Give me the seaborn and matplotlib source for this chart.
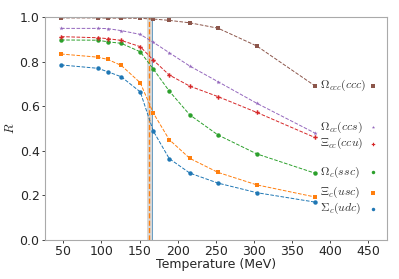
import pandas as pd
import matplotlib
matplotlib.use('Agg')
import matplotlib.pyplot as plt
import seaborn as sns

# temperaturas (MeV) dos pontos calculados
temperatura = [47, 95, 108, 126, 151, 168, 189, 216, 253, 304, 380]

# razão R para cada bárion
r_udc = [0.785, 0.770, 0.755, 0.732, 0.664, 0.489, 0.365, 0.300, 0.255, 0.212, 0.170]
r_usc = [0.834, 0.820, 0.810, 0.783, 0.705, 0.570, 0.450, 0.366, 0.303, 0.247, 0.193]
r_ssc = [0.897, 0.896, 0.889, 0.882, 0.844, 0.767, 0.668, 0.561, 0.471, 0.386, 0.300]
r_ccu = [0.912, 0.907, 0.903, 0.895, 0.867, 0.807, 0.740, 0.690, 0.643, 0.572, 0.460]
r_ccs = [0.949, 0.949, 0.948, 0.939, 0.922, 0.887, 0.840, 0.780, 0.710, 0.613, 0.480]
r_ccc = [0.996, 0.996, 0.995, 0.995, 0.994, 0.991, 0.985, 0.974, 0.950, 0.870, 0.692]

nomes = [r'$\Sigma_c(udc)$', r'$\Xi_c(usc)$', r'$\Omega_c(ssc)$',
         r'$\Xi_{cc}(ccu)$', r'$\Omega_{cc}(ccs)$', r'$\Omega_{ccc}(ccc)$']
series = [r_udc, r_usc, r_ssc, r_ccu, r_ccs, r_ccc]
# altura onde fica cada rótulo à direita
y_rotulo = [0.140, 0.212, 0.305, 0.432, 0.506, 0.692]

cores = sns.color_palette('tab10')[:6]
marcadores = ['o', 's', 'o', 'P', '*', 's']

sns.set_style('white')
plt.rcParams['mathtext.fontset'] = 'cm'

fig, ax = plt.subplots(figsize=(3.99, 2.79), dpi=100)
fig.subplots_adjust(left=0.113, right=0.97, top=0.939, bottom=0.14)

# faixa da temperatura crítica
ax.axvspan(160, 168, color='gray', alpha=0.3, lw=0)
ax.axvline(162, color='tab:orange', ls='--', lw=1.0)
ax.axvline(166, color='tab:blue', lw=0.7, alpha=0.6)

for nome, vals, cor, m, yr in zip(nomes, series, cores, marcadores, y_rotulo):
    df = pd.DataFrame({'T': temperatura, 'R': vals})
    sns.lineplot(data=df, x='T', y='R', ax=ax, color=cor, marker=m,
                 markersize=3.2, markeredgewidth=0, linestyle='--', linewidth=0.7)
    ax.text(387, yr, nome, fontsize=8.5, va='center', ha='left', color='#333333')
    ax.plot([456], [yr], marker=m, color=cor, markersize=2.5, markeredgewidth=0, clip_on=False)

ax.set_xlim(26, 475)
ax.set_ylim(0, 1.0)
ax.set_xticks([50, 100, 150, 200, 250, 300, 350, 400, 450])
ax.set_yticks([0.0, 0.2, 0.4, 0.6, 0.8, 1.0])
ax.tick_params(axis='both', labelsize=9, length=2.5, width=0.6, left=True, bottom=True, pad=1.5)
ax.set_xlabel('Temperature (MeV)', fontsize=9, labelpad=0)
ax.set_ylabel(r'$R$', fontsize=9, labelpad=2)
for s in ax.spines.values():
    s.set_color('#aaaaaa')
    s.set_linewidth(0.8)

fig.savefig('out.png', dpi=100)
